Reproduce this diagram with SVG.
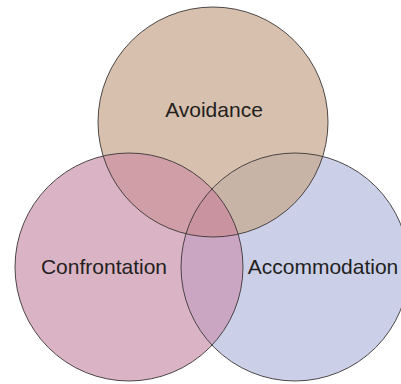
<svg xmlns="http://www.w3.org/2000/svg" width="401" height="384" viewBox="0 0 401 384">
  <style>
    .outline { fill: none; stroke: #3b3536; stroke-width: 0.9; }
    .label { font-family: "Liberation Sans", Arial, sans-serif; font-size: 21px; fill: #231f20; text-anchor: middle; }
  </style>
  <defs>
    <circle id="cTop" cx="213" cy="122" r="115"/>
    <circle id="cLeft" cx="129" cy="267" r="114"/>
    <circle id="cRight" cx="295" cy="267" r="114"/>
    <clipPath id="clipTop"><use href="#cTop"/></clipPath>
    <clipPath id="clipLeft"><use href="#cLeft"/></clipPath>
    <clipPath id="clipRight"><use href="#cRight"/></clipPath>
  </defs>
  <rect width="401" height="384" fill="#ffffff"/>
  <g id="regions">
    <use href="#cTop" fill="#d7c0ad"/>
    <use href="#cLeft" fill="#dab4c5"/>
    <use href="#cRight" fill="#cbcfe8"/>
    <use href="#cLeft" fill="#cf9ea7" clip-path="url(#clipTop)"/>
    <use href="#cRight" fill="#c7b4a6" clip-path="url(#clipTop)"/>
    <use href="#cRight" fill="#caa6c2" clip-path="url(#clipLeft)"/>
    <g clip-path="url(#clipTop)">
      <use href="#cRight" fill="#c9939f" clip-path="url(#clipLeft)"/>
    </g>
  </g>
  <g id="node-avoidance">
    <use href="#cTop" class="outline"/>
    <text class="label" x="214" y="117">Avoidance</text>
  </g>
  <g id="node-confrontation">
    <use href="#cLeft" class="outline"/>
    <text class="label" x="104" y="274">Confrontation</text>
  </g>
  <g id="node-accommodation">
    <use href="#cRight" class="outline"/>
    <text class="label" x="323" y="274">Accommodation</text>
  </g>
</svg>
